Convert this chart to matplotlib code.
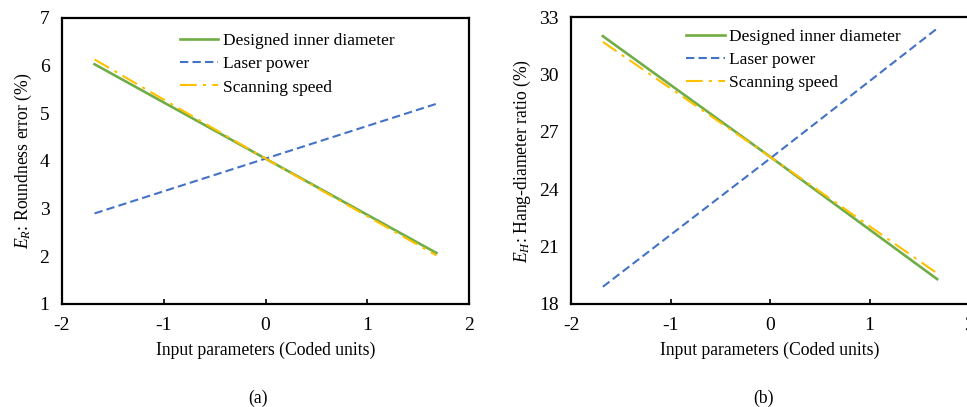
import matplotlib
matplotlib.use("Agg")
from matplotlib import pyplot as plt

plt.rcParams["font.family"] = "Liberation Serif"
plt.rcParams["mathtext.fontset"] = "custom"
plt.rcParams["mathtext.rm"] = "Liberation Serif"
plt.rcParams["mathtext.it"] = "Liberation Serif:italic"

# coded levels of the factors
x_coded = [-1.68, 0.0, 1.68]

# (a) roundness error
er_diameter = [6.03, 4.05, 2.07]
er_power = [2.90, 4.05, 5.20]
er_speed = [6.13, 4.05, 2.02]

# (b) hang-diameter ratio
eh_diameter = [32.0, 25.7, 19.3]
eh_power = [18.9, 25.6, 32.4]
eh_speed = [31.7, 25.7, 19.6]

labels = ["Designed inner diameter", "Laser power", "Scanning speed"]

W, H = 967, 407
fig = plt.figure(figsize=(W / 100, H / 100), dpi=100)

# axes boxes in pixels: left, top, right, bottom
ax_a = fig.add_axes([62 / W, 1 - 304 / H, (469 - 62) / W, (304 - 18) / H])
ax_b = fig.add_axes([571 / W, 1 - 304 / H, (969 - 571) / W, (304 - 17) / H])


def draw(ax, ys, ylim, yticks, ylabel, leg_anchor):
    ax.plot(x_coded, ys[0], color="#70ad47", lw=1.9, label=labels[0])
    ax.plot(x_coded, ys[1], color="#4472c4", lw=1.5, ls=(0, (4, 2)), label=labels[1])
    ax.plot(x_coded, ys[2], color="#ffc000", lw=1.5, ls=(0, (8, 3, 1.5, 3)), label=labels[2])
    ax.set_xlim(-2, 2)
    ax.set_ylim(*ylim)
    ax.set_xticks([-2, -1, 0, 1, 2])
    ax.set_xticklabels(["-2", "-1", "0", "1", "2"])
    ax.set_yticks(yticks)
    for s in ax.spines.values():
        s.set_linewidth(1.6)
    ax.tick_params(labelsize=14)
    ax.tick_params(axis="x", direction="in", length=3.5, width=1.2, pad=9)
    ax.tick_params(axis="y", length=0, pad=9)
    ax.set_xlabel("Input parameters (Coded units)", fontsize=12.7, labelpad=6)
    ax.set_ylabel(ylabel, fontsize=12.7, labelpad=4)
    ax.legend(loc="upper left", bbox_to_anchor=leg_anchor, frameon=False,
              fontsize=12.5, handlelength=2.2, handletextpad=0.25,
              labelspacing=0.4, borderaxespad=0, borderpad=0)


draw(ax_a, [er_diameter, er_power, er_speed], (1, 7), range(1, 8),
     "$E_R$: Roundness error (%)", (0.29, 0.947))
draw(ax_b, [eh_diameter, eh_power, eh_speed], (18, 33), range(18, 34, 3),
     "$E_H$: Hang-diameter ratio (%)", (0.29, 0.958))
# right panel is cropped at the image edge in the original
ax_b.spines["right"].set_visible(False)

fig.text(258 / W, 1 - 398 / H, "(a)", ha="center", va="center", fontsize=12.7)
fig.text(763 / W, 1 - 398 / H, "(b)", ha="center", va="center", fontsize=12.7)

fig.savefig("out.png", dpi=100)
